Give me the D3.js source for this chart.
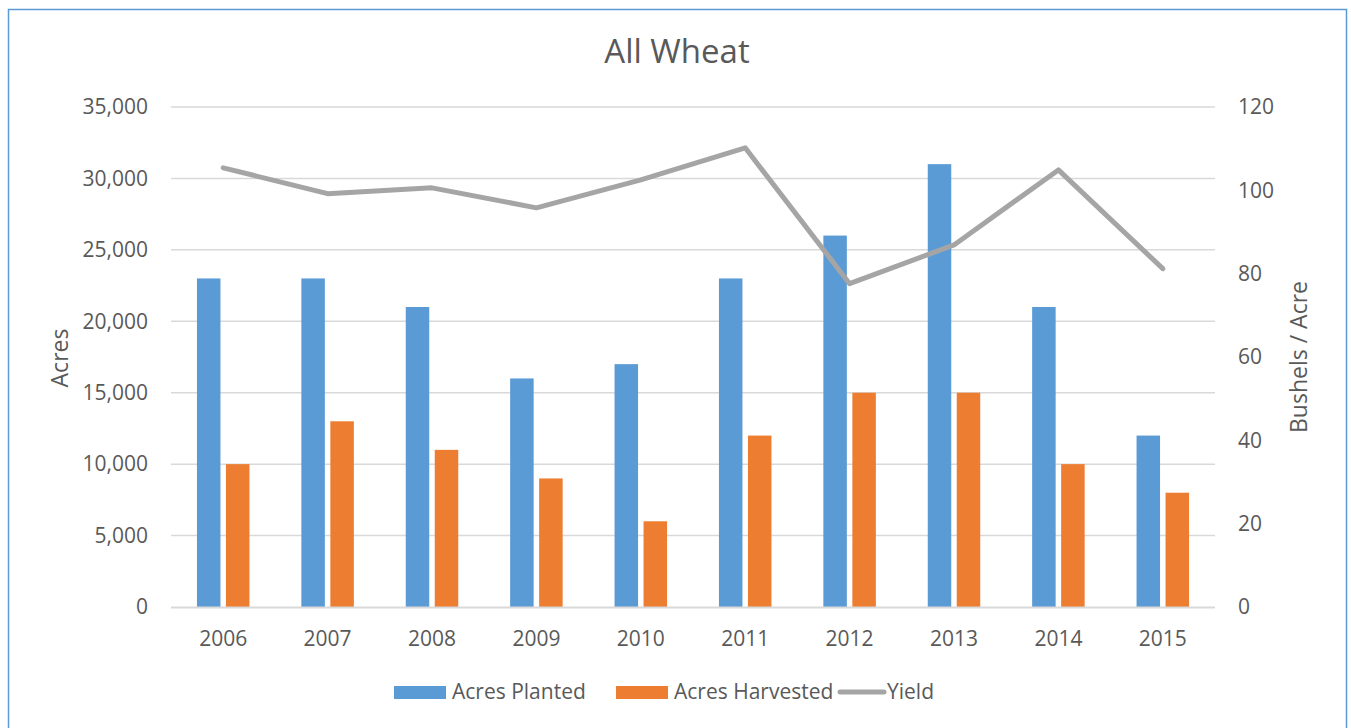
<!DOCTYPE html>
<html><head><meta charset="utf-8">
<script src="https://cdn.jsdelivr.net/npm/d3@7"></script>
<style>body{margin:0;background:#fff;}svg text{font-family:"Open Sans",sans-serif;fill:#595959;}</style>
</head><body><svg id="c" width="1351" height="728"></svg>
<script>
const years = ["2006","2007","2008","2009","2010","2011","2012","2013","2014","2015"];
const acresPlanted = [23000,23000,21000,16000,17000,23000,26000,31000,21000,12000];
const acresHarvested = [10000,13000,11000,9000,6000,12000,15000,15000,10000,8000];
const yieldVals = [105.4,99.2,100.6,95.8,102.5,110.2,77.6,86.9,104.9,81.2];
const leftTicks = [0,5000,10000,15000,20000,25000,30000,35000];
const rightTicks = [0,20,40,60,80,100,120];
const seriesNames = ["Acres Planted","Acres Harvested","Yield"];
const colors = ["#5b9bd5","#ed7d31","#a5a5a5"];

const svg = d3.select("#c");
svg.append("rect").attr("x",8.5).attr("y",9.5).attr("width",1338).attr("height",740)
  .attr("fill","none").attr("stroke","#5b9bd5").attr("stroke-width",1.5);

const L=171,R=1215,T=107,B=607;
const x = d3.scaleBand().domain(years).range([L,R]);
const yL = d3.scaleLinear().domain([0,35000]).range([B,T]);
const yR = d3.scaleLinear().domain([0,120]).range([B,T]);

// gridlines
svg.append("g").selectAll("line").data(leftTicks.slice(1)).join("line")
  .attr("x1",L).attr("x2",R).attr("y1",d=>yL(d)).attr("y2",d=>yL(d))
  .attr("stroke","#d9d9d9").attr("stroke-width",1.5);

// left axis
const gl = svg.append("g").attr("transform",`translate(${L},0)`)
  .call(d3.axisLeft(yL).tickValues(leftTicks).tickFormat(d3.format(",")).tickSize(0).tickPadding(23));
gl.select(".domain").remove();
gl.selectAll("text").attr("font-size",21).attr("fill","#595959");

const gr = svg.append("g").attr("transform",`translate(${R},0)`)
  .call(d3.axisRight(yR).tickValues(rightTicks).tickSize(0).tickPadding(23));
gr.select(".domain").remove();
gr.selectAll("text").attr("font-size",21).attr("fill","#595959");

// bars
const bw = 23.5, gap = 5.5;
const groups = svg.append("g");
groups.selectAll("rect.p").data(years).join("rect").attr("class","p")
  .attr("x",(d)=>x(d)+x.bandwidth()/2-gap/2-bw).attr("width",bw)
  .attr("y",(d,i)=>yL(acresPlanted[i])).attr("height",(d,i)=>B-yL(acresPlanted[i]))
  .attr("fill",colors[0]);
groups.selectAll("rect.h").data(years).join("rect").attr("class","h")
  .attr("x",(d)=>x(d)+x.bandwidth()/2+gap/2).attr("width",bw)
  .attr("y",(d,i)=>yL(acresHarvested[i])).attr("height",(d,i)=>B-yL(acresHarvested[i]))
  .attr("fill",colors[1]);

// baseline
svg.append("line").attr("x1",L).attr("x2",R).attr("y1",B+0.5).attr("y2",B+0.5)
  .attr("stroke","#d9d9d9").attr("stroke-width",2);

// x axis
const gx = svg.append("g").attr("transform",`translate(0,${B})`)
  .call(d3.axisBottom(x).tickSize(0).tickPadding(24));
gx.select(".domain").remove();
gx.selectAll("text").attr("font-size",21).attr("fill","#595959");

// yield line
svg.append("path").datum(yieldVals)
  .attr("d",d3.line().x((d,i)=>x(years[i])+x.bandwidth()/2).y(d=>yR(d)))
  .attr("fill","none").attr("stroke",colors[2]).attr("stroke-width",5)
  .attr("stroke-linecap","round").attr("stroke-linejoin","round");

// title
svg.append("text").attr("x",677).attr("y",63).attr("text-anchor","middle")
  .attr("font-size",33).text("All Wheat");

// axis titles
svg.append("text").attr("transform","translate(68,358) rotate(-90)").attr("text-anchor","middle")
  .attr("font-size",23).text("Acres");
svg.append("text").attr("transform","translate(1307,357) rotate(-90)").attr("text-anchor","middle")
  .attr("font-size",23).text("Bushels / Acre");

// legend
const lg = svg.append("g");
lg.append("rect").attr("x",394).attr("y",686).attr("width",52).attr("height",13).attr("fill",colors[0]);
lg.append("text").attr("x",452).attr("y",699).attr("font-size",21).text(seriesNames[0]);
lg.append("rect").attr("x",616).attr("y",686).attr("width",52).attr("height",13).attr("fill",colors[1]);
lg.append("text").attr("x",674).attr("y",699).attr("font-size",21).text(seriesNames[1]);
lg.append("line").attr("x1",840).attr("x2",884).attr("y1",692).attr("y2",692)
  .attr("stroke",colors[2]).attr("stroke-width",5).attr("stroke-linecap","round");
lg.append("text").attr("x",887).attr("y",699).attr("font-size",21).text(seriesNames[2]);
</script></body></html>
